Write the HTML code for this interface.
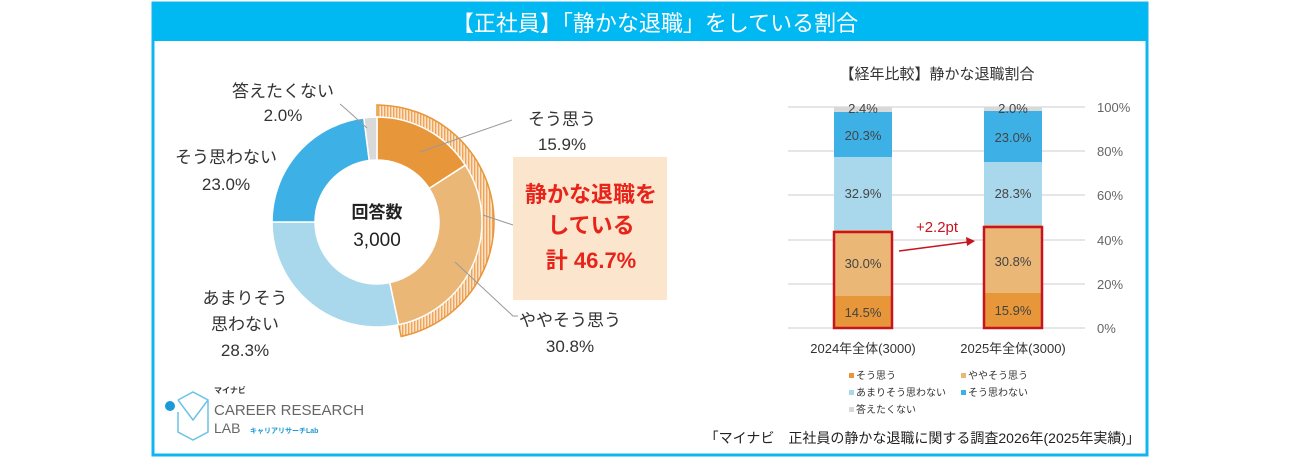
<!DOCTYPE html>
<html><head><meta charset="utf-8"><style>
body{margin:0;background:#fff;width:1300px;height:458px;overflow:hidden;font-family:"Liberation Sans","Noto Sans CJK JP",sans-serif;}
svg text{font-family:"Liberation Sans","Noto Sans CJK JP",sans-serif;}
</style></head><body>
<svg id="s" width="1300" height="458" viewBox="0 0 1300 458">
<defs>
<pattern id="hatch" width="3" height="3" patternUnits="userSpaceOnUse">
<rect width="3" height="3" fill="#fbe3c8"/><rect width="1.4" height="3" fill="#eea55a"/>
</pattern>
</defs>
<rect x="153" y="3" width="994" height="452" fill="#fff" stroke="#12b6ee" stroke-width="3"/>
<rect x="153" y="3" width="994" height="38" fill="#00b9f2"/>
<text x="655" y="31" font-size="22" fill="#fff" text-anchor="middle">【正社員】「静かな退職」をしている割合</text>
<g id="donut"></g>
<g font-size="17" fill="#333" text-anchor="middle">
<text x="283" y="97">答えたくない</text><text x="283" y="121">2.0%</text>
<text x="226" y="163">そう思わない</text><text x="226" y="190">23.0%</text>
<text x="245" y="304">あまりそう</text><text x="245" y="330">思わない</text><text x="245" y="356">28.3%</text>
<text x="562" y="125">そう思う</text><text x="562" y="150">15.9%</text>
<text x="570" y="326">ややそう思う</text><text x="570" y="352">30.8%</text>
</g>
<g stroke="#999" stroke-width="1" fill="none">
<polyline points="340,104 347,110 367,128"/>
<line x1="512" y1="120" x2="420" y2="152"/>
<polyline points="455,262 513,316 518,316"/>
<line x1="483" y1="215" x2="513" y2="225"/>
</g>
<text x="377" y="218" font-size="17" fill="#222" text-anchor="middle" font-weight="bold">回答数</text>
<text x="377" y="246" font-size="19" fill="#222" text-anchor="middle">3,000</text>
<rect x="513" y="157" width="154" height="143" fill="#fbe5cd"/>
<g font-size="22" fill="#e8241a" font-weight="bold" text-anchor="middle">
<text x="591" y="202">静かな退職を</text><text x="591" y="233">している</text><text x="591" y="268">計 46.7%</text>
</g>
<text x="937" y="79" font-size="15" fill="#333" text-anchor="middle">【経年比較】静かな退職割合</text>
<g stroke="#ddd" stroke-width="1.5">
<line x1="788" y1="107" x2="1085" y2="107"/><line x1="788" y1="151" x2="1085" y2="151"/>
<line x1="788" y1="195" x2="1085" y2="195"/><line x1="788" y1="240" x2="1085" y2="240"/>
<line x1="788" y1="284" x2="1085" y2="284"/><line x1="788" y1="328" x2="1085" y2="328"/>
</g>
<g font-size="13" fill="#666">
<text x="1097" y="112">100%</text><text x="1097" y="156">80%</text><text x="1097" y="200">60%</text>
<text x="1097" y="245">40%</text><text x="1097" y="289">20%</text><text x="1097" y="333">0%</text>
</g>
<g>
<rect x="834" y="296" width="58" height="32" fill="#e8963a"/>
<rect x="834" y="230" width="58" height="66" fill="#ebb777"/>
<rect x="834" y="157" width="58" height="73" fill="#a9d8ec"/>
<rect x="834" y="112" width="58" height="45" fill="#3db1e6"/>
<rect x="834" y="107" width="58" height="5" fill="#d9d9d9"/>
<rect x="984" y="293" width="58" height="35" fill="#e8963a"/>
<rect x="984" y="225" width="58" height="68" fill="#ebb777"/>
<rect x="984" y="162" width="58" height="63" fill="#a9d8ec"/>
<rect x="984" y="111" width="58" height="51" fill="#3db1e6"/>
<rect x="984" y="107" width="58" height="4" fill="#d9d9d9"/>
<rect x="834" y="232" width="58" height="96" fill="none" stroke="#c8141e" stroke-width="2.5"/>
<rect x="984" y="227" width="58" height="101" fill="none" stroke="#c8141e" stroke-width="2.5"/>
</g>
<g font-size="13" fill="#444" text-anchor="middle">
<text x="863" y="113">2.4%</text><text x="863" y="140">20.3%</text><text x="863" y="198">32.9%</text>
<text x="863" y="268">30.0%</text><text x="863" y="317">14.5%</text>
<text x="1013" y="113">2.0%</text><text x="1013" y="142">23.0%</text><text x="1013" y="198">28.3%</text>
<text x="1013" y="266">30.8%</text><text x="1013" y="315">15.9%</text>
</g>
<line x1="899" y1="251" x2="968" y2="242" stroke="#c8141e" stroke-width="1.5"/>
<polygon points="975,241 966,237 967,246" fill="#c8141e"/>
<text x="937" y="232" font-size="15" fill="#c8141e" text-anchor="middle">+2.2pt</text>
<g font-size="13" fill="#333" text-anchor="middle">
<text x="863" y="353">2024年全体(3000)</text><text x="1013" y="353">2025年全体(3000)</text>
</g>
<g font-size="10" fill="#333">
<rect x="849" y="373" width="5" height="5" fill="#e8963a"/><text x="856" y="379">そう思う</text>
<rect x="961" y="373" width="5" height="5" fill="#ebb777"/><text x="968" y="379">ややそう思う</text>
<rect x="849" y="390" width="5" height="5" fill="#a9d8ec"/><text x="856" y="396">あまりそう思わない</text>
<rect x="961" y="390" width="5" height="5" fill="#3db1e6"/><text x="968" y="396">そう思わない</text>
<rect x="849" y="407" width="5" height="5" fill="#d9d9d9"/><text x="856" y="413">答えたくない</text>
</g>
<text x="1140" y="443" font-size="14" fill="#222" text-anchor="end">「マイナビ　正社員の静かな退職に関する調査2026年(2025年実績)」</text>
<g>
<circle cx="170" cy="406" r="5" fill="#1a9ad6"/>
<polyline points="178,400 193,392 208,400 208,432 193,440 178,432 178,412" fill="none" stroke="#6cc3e6" stroke-width="1.5"/>
<polyline points="178,400 193,420 208,400" fill="none" stroke="#6cc3e6" stroke-width="1.5"/>
<text x="214" y="393" font-size="8" fill="#333" font-weight="bold">マイナビ</text>
<text x="214" y="415" font-size="15" fill="#666">CAREER RESEARCH</text>
<text x="214" y="433" font-size="14" fill="#666">LAB</text>
<text x="250" y="433" font-size="7" fill="#1a9ad6" font-weight="bold">キャリアリサーチLab</text>
</g>
</svg>
<script>
(function(){
var g=document.getElementById('donut'),cx=377,cy=222,ns='http://www.w3.org/2000/svg';
function P(r,a){a=(a-90)*Math.PI/180;return [cx+r*Math.cos(a),cy+r*Math.sin(a)];}
function arc(r1,r2,a1,a2,fill,stroke){var l=(a2-a1)>180?1:0,p1=P(r2,a1),p2=P(r2,a2),p3=P(r1,a2),p4=P(r1,a1);
var d='M'+p1+' A'+r2+','+r2+' 0 '+l+' 1 '+p2+' L'+p3+' A'+r1+','+r1+' 0 '+l+' 0 '+p4+'Z';
var e=document.createElementNS(ns,'path');e.setAttribute('d',d);e.setAttribute('fill',fill);
if(stroke){e.setAttribute('stroke',stroke);e.setAttribute('stroke-width','1.5');}else{e.setAttribute('stroke','#fff');e.setAttribute('stroke-width','1.5');}
g.appendChild(e);}
var segs=[[15.9,'#e8963a'],[30.8,'#ebb777'],[28.3,'#a9d8ec'],[23.0,'#3db1e6'],[2.0,'#d9d9d9']],a=0;
arc(105,117,0,168.1,'url(#hatch)','#e8963a');
segs.forEach(function(s){var b=a+s[0]*3.6;arc(62,105,a,b,s[1]);a=b;});
})();
</script>
</body></html>
